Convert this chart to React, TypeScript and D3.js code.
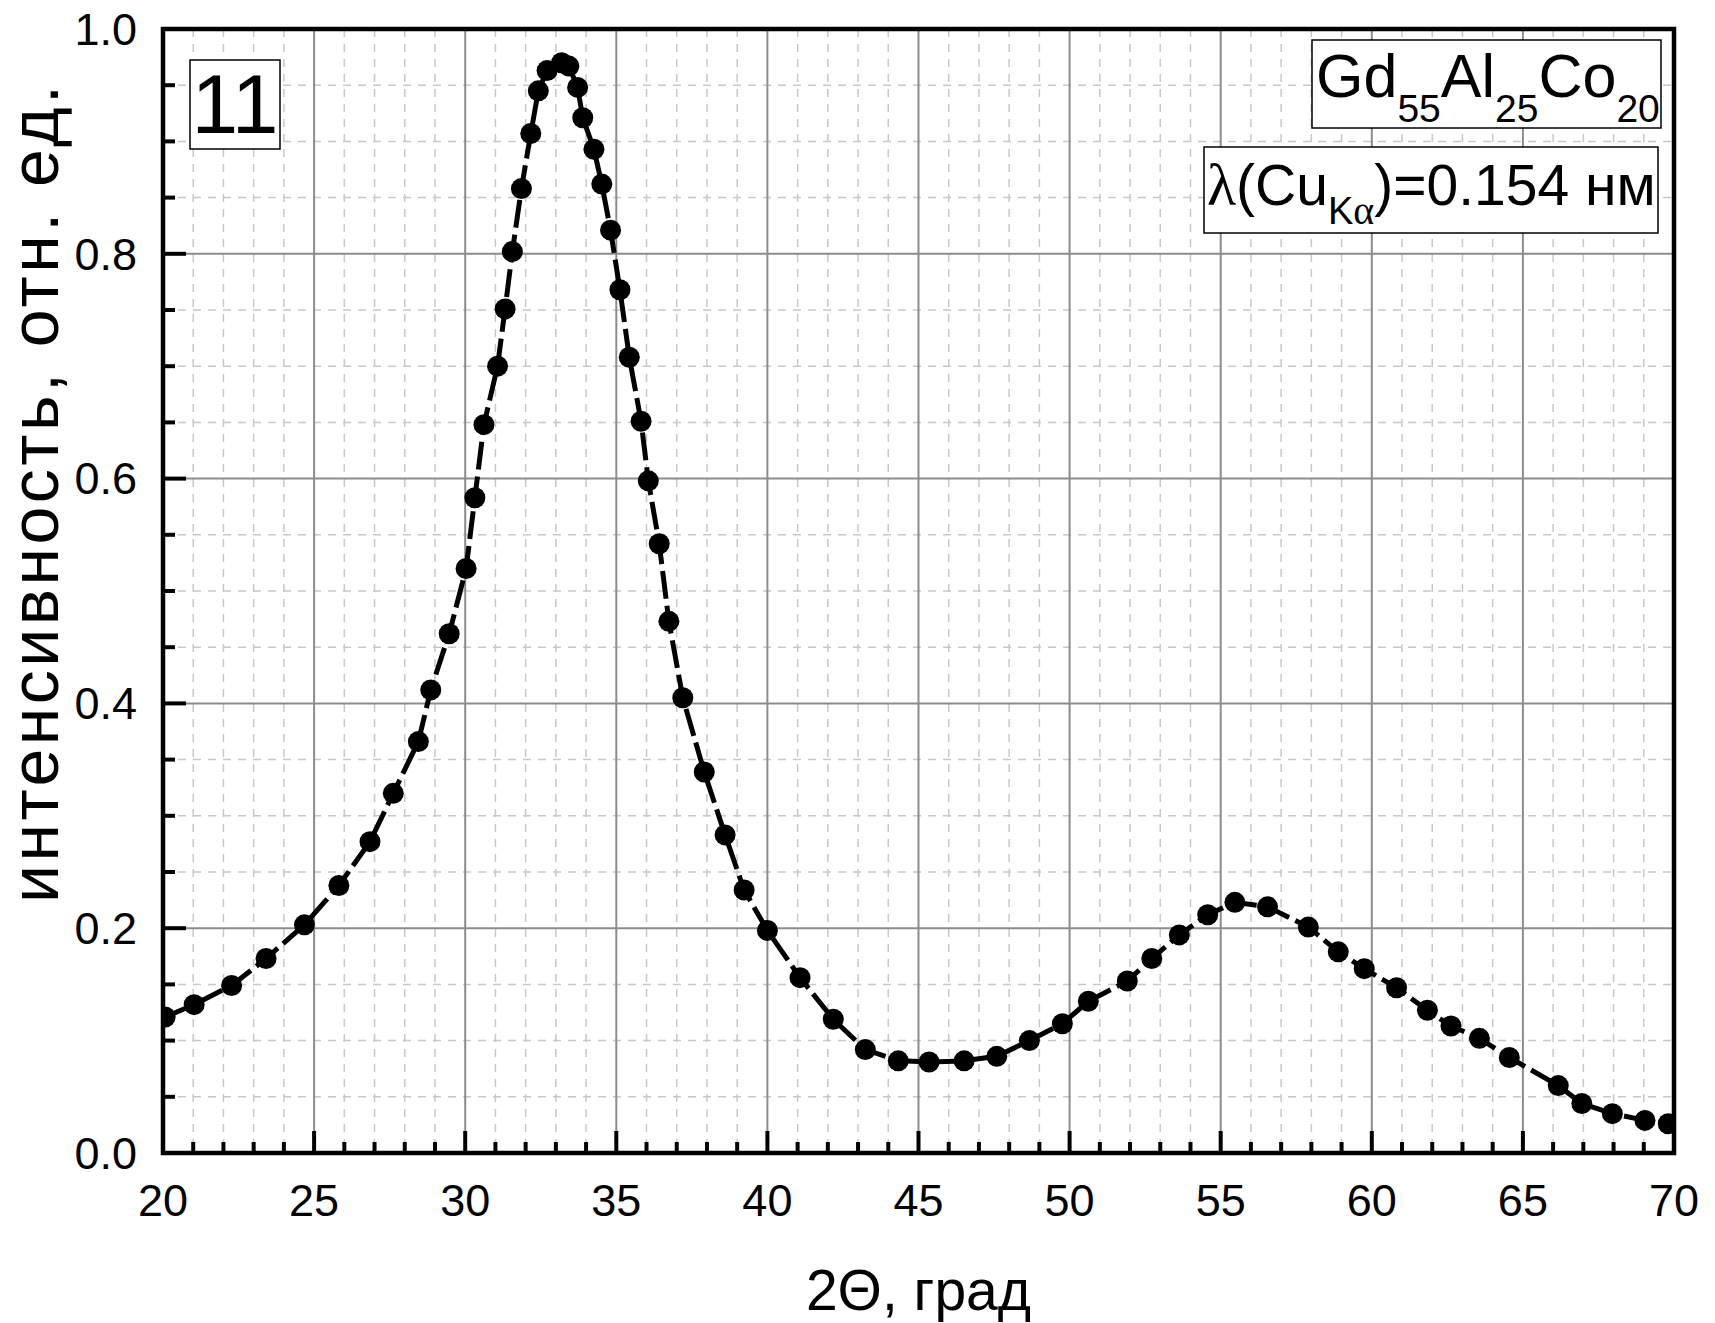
import React from "react";
import * as d3 from "d3";

// 2Theta (deg) and relative intensity
const twoTheta = [
  20.07, 21.03, 22.27, 23.41, 24.68, 25.82, 26.85, 27.62, 28.45, 28.86,
  29.47, 30.03, 30.32, 30.62, 31.07, 31.32, 31.56, 31.86, 32.17, 32.42,
  32.71, 33.19, 33.43, 33.72, 33.89, 34.26, 34.52, 34.81, 35.12, 35.43,
  35.82, 36.06, 36.42, 36.74, 37.2, 37.91, 38.6, 39.23, 40.0, 41.08,
  42.18, 43.24, 44.33, 45.35, 46.51, 47.59, 48.67, 49.76, 50.62, 51.91,
  52.72, 53.63, 54.57, 55.47, 56.55, 57.9, 58.89, 59.75, 60.82, 61.84,
  62.62, 63.56, 64.55, 66.17, 66.95, 67.96, 69.04, 69.81,
];
const intensity = [
  0.121, 0.132, 0.149, 0.173, 0.203, 0.238, 0.277, 0.32, 0.366, 0.412,
  0.462, 0.52, 0.583, 0.648, 0.7, 0.751, 0.802, 0.858, 0.907, 0.945,
  0.963, 0.97, 0.967, 0.948, 0.921, 0.893, 0.862, 0.821, 0.768, 0.708,
  0.651, 0.598, 0.542, 0.473, 0.405, 0.339, 0.283, 0.234, 0.198, 0.156,
  0.119, 0.092, 0.082, 0.081, 0.082, 0.086, 0.1, 0.115, 0.135, 0.153,
  0.173, 0.194, 0.212, 0.223, 0.219, 0.201, 0.179, 0.164, 0.147, 0.127,
  0.113, 0.102, 0.085, 0.06, 0.044, 0.035, 0.029, 0.026,
];

const xTicks = [20, 25, 30, 35, 40, 45, 50, 55, 60, 65, 70];
const yTicks = [0, 0.2, 0.4, 0.6, 0.8, 1.0];

const FONT = "'Liberation Sans', Arial, sans-serif";
const SERIF = "'Liberation Serif', 'Times New Roman', serif";

export default function App() {
  const W = 1715;
  const H = 1323;
  const left = 163, right = 1674, top = 29, bottom = 1153;

  const x = d3.scaleLinear().domain([20, 70]).range([left, right]);
  const y = d3.scaleLinear().domain([0, 1]).range([bottom, top]);

  const minorX = d3.range(21, 70, 1).filter(v => v % 5 !== 0);
  const minorY = d3.range(1, 20, 1).map(v => v * 0.05).filter((v, i) => (i + 1) % 4 !== 0);
  const majorX = xTicks.slice(1, -1);
  const majorY = yTicks.slice(1, -1);

  const pts = twoTheta.map((t, i) => [t, intensity[i]] as [number, number]);
  const line = d3.line<[number, number]>()
    .x(d => x(d[0]))
    .y(d => y(d[1]));

  return (
    <svg width={W} height={H} style={{ position: "absolute", left: 0, top: 0, background: "#fff" }}
      fontFamily={FONT}>
      <defs>
        <clipPath id="plot">
          <rect x={left} y={top} width={right - left} height={bottom - top} />
        </clipPath>
      </defs>

      {/* minor grid */}
      {minorX.map(v => (
        <line key={"mx" + v} x1={x(v)} x2={x(v)} y1={top} y2={bottom}
          stroke="#c8c8c8" strokeWidth={1.5} strokeDasharray="8 7" />
      ))}
      {minorY.map(v => (
        <line key={"my" + v} x1={left} x2={right} y1={y(v)} y2={y(v)}
          stroke="#c8c8c8" strokeWidth={1.5} strokeDasharray="8 7" />
      ))}
      {/* major grid */}
      {majorX.map(v => (
        <line key={"gx" + v} x1={x(v)} x2={x(v)} y1={top} y2={bottom} stroke="#8c8c8c" strokeWidth={2} />
      ))}
      {majorY.map(v => (
        <line key={"gy" + v} x1={left} x2={right} y1={y(v)} y2={y(v)} stroke="#8c8c8c" strokeWidth={2} />
      ))}

      {/* data */}
      <g clipPath="url(#plot)">
        <path d={line(pts) || ""} fill="none" stroke="#000" strokeWidth={5}
          strokeDasharray="28 7" />
        {pts.map((d, i) => (
          <circle key={i} cx={x(d[0])} cy={y(d[1])} r={10.5} fill="#000" />
        ))}
      </g>

      {/* ticks */}
      {d3.range(21, 70, 1).map(v => (
        <line key={"tx" + v} x1={x(v)} x2={x(v)} y1={bottom} y2={bottom - (v % 5 === 0 ? 22 : 11)}
          stroke="#000" strokeWidth={4} />
      ))}
      {d3.range(1, 20, 1).map(i => (
        <line key={"ty" + i} x1={left} x2={left + (i % 4 === 0 ? 23 : 12)} y1={y(i * 0.05)} y2={y(i * 0.05)}
          stroke="#000" strokeWidth={4} />
      ))}

      {/* frame */}
      <rect x={left} y={top} width={right - left} height={bottom - top} fill="none" stroke="#000" strokeWidth={4.5} />

      {/* tick labels */}
      {xTicks.map(v => (
        <text key={"lx" + v} x={x(v)} y={bottom + 63} fontSize={45} textAnchor="middle">{v}</text>
      ))}
      {yTicks.map(v => (
        <text key={"ly" + v} x={137} y={y(v)} dy="0.35em" fontSize={45} textAnchor="end">{v.toFixed(1)}</text>
      ))}

      {/* axis titles */}
      <text x={(left + right) / 2} y={1310} fontSize={57} textAnchor="middle">2Θ, град</text>
      <text transform={`translate(58, 494) rotate(-90)`} fontSize={68} textAnchor="middle"
        textLength={818} lengthAdjust="spacing">
        интенсивность, отн. ед.
      </text>

      {/* sample number */}
      <rect x={190} y={60} width={90} height={89} fill="#fff" stroke="#000" strokeWidth={1.5} />
      <text x={235} y={133} fontSize={84} textAnchor="middle">11</text>

      {/* composition */}
      <rect x={1312} y={40} width={349} height={88} fill="#fff" stroke="#000" strokeWidth={1.5} />
      <text x={1316} y={97} fontSize={61}>
        Gd<tspan fontSize={39} dy={25}>55</tspan>
        <tspan dy={-25}>Al</tspan><tspan fontSize={39} dy={25}>25</tspan>
        <tspan dy={-25}>Co</tspan><tspan fontSize={39} dy={25}>20</tspan>
      </text>

      {/* wavelength */}
      <rect x={1204} y={147} width={454} height={86} fill="#fff" stroke="#000" strokeWidth={1.5} />
      <text x={1207} y={205} fontSize={57}>
        <tspan fontFamily={SERIF} fontSize={60}>λ</tspan>(Cu<tspan fontSize={38} dy={19}>K</tspan>
        <tspan fontFamily={SERIF} fontSize={40}>α</tspan><tspan dy={-19}>)=0.154 нм</tspan>
      </text>
    </svg>
  );
}
